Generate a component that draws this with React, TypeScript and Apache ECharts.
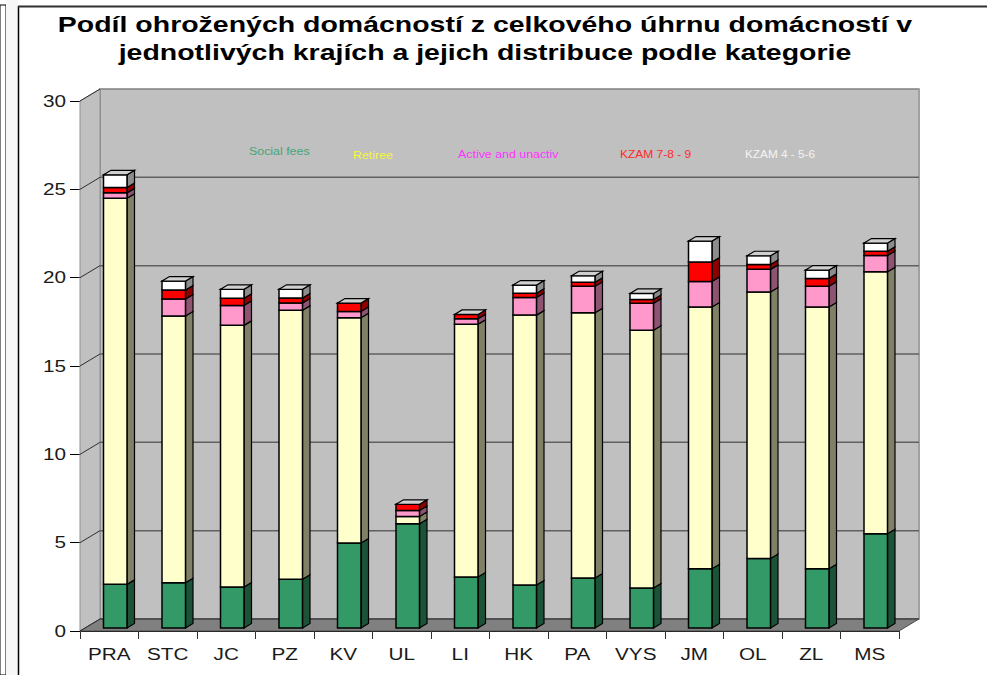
import React, { useEffect, useRef } from "react";
import * as echarts from "echarts";

const titleLines = [
  "Podíl ohrožených domácností z celkového úhrnu domácností v",
  "jednotlivých krajích a jejich distribuce podle kategorie",
];
const categories = ["PRA", "STC", "JC", "PZ", "KV", "UL", "LI", "HK", "PA", "VYS", "JM", "OL", "ZL", "MS"];
const socialFees = [2.47, 2.56, 2.32, 2.76, 4.81, 5.9, 2.89, 2.43, 2.83, 2.26, 3.36, 3.94, 3.36, 5.34];
const retiree = [21.85, 15.1, 14.81, 15.22, 12.75, 0.41, 14.3, 15.28, 15.01, 14.6, 14.81, 15.08, 14.81, 14.82];
const activeUnactiv = [0.31, 0.96, 1.13, 0.42, 0.36, 0.34, 0.31, 1.0, 1.5, 1.52, 1.45, 1.28, 1.17, 0.93];
const kzam789 = [0.31, 0.51, 0.41, 0.28, 0.47, 0.35, 0.25, 0.24, 0.23, 0.22, 1.09, 0.28, 0.45, 0.23];
const kzam456 = [0.71, 0.51, 0.5, 0.49, 0, 0, 0, 0.46, 0.37, 0.34, 1.19, 0.49, 0.47, 0.47];
const yTicks = [0, 5, 10, 15, 20, 25, 30];

const seriesDefs = [
  { name: "Social fees", values: socialFees, front: "#339966", side: "#1c5338" },
  { name: "Retiree", values: retiree, front: "#ffffcc", side: "#808066" },
  { name: "Active and unactiv", values: activeUnactiv, front: "#ff99cc", side: "#8c5470" },
  { name: "KZAM 7-8 - 9", values: kzam789, front: "#ff0000", side: "#8c0000" },
  { name: "KZAM 4 - 5-6", values: kzam456, front: "#ffffff", side: "#8c8c8c" },
];
const legendLabels = [
  { text: "Social fees", x: 249, y: 151, color: "#47a578", scaleX: 1.24 },
  { text: "Retiree", x: 353, y: 155, color: "#f6f63c", scaleX: 1.24 },
  { text: "Active and unactiv", x: 458, y: 154, color: "#ff33ff", scaleX: 1.24 },
  { text: "KZAM 7-8 - 9", x: 620, y: 154, color: "#ff2a2a", scaleX: 1.2 },
  { text: "KZAM 4 - 5-6", x: 745, y: 154, color: "#f4f4f4", scaleX: 1.18 },
];

const FONT = '"Liberation Sans", Arial, sans-serif';
const LABEL_FONT = `17px ${FONT}`;
const LABEL_STRETCH = 1.22;
const LABEL_COLOR = "#1a1a1a";
const WALL_DX = 20;
const WALL_DY = -12;
const BAR_DX = 7.5;
const BAR_DY = -4.5;
const BAR_WIDTH = 23.5;
const BAR_SHIFT_X = 6;
const BAR_SHIFT_Y = -3;
const EDGE = "#000000";

function poly(points: number[][], fill: string, stroke: string, lineWidth: number) {
  return { type: "polygon", shape: { points }, style: { fill, stroke, lineWidth, lineJoin: "miter" } };
}

export default function App() {
  const ref = useRef<HTMLDivElement>(null);
  useEffect(() => {
    const chart = echarts.init(ref.current!, undefined, { renderer: "svg" });

    const wallSeries = {
      type: "custom",
      name: "walls",
      silent: true,
      z: 1,
      data: yTicks.map((v) => [0, v]),
      encode: { x: 0, y: 1 },
      clip: false,
      renderItem: (params: any, api: any) => {
        const c = params.coordSys;
        const l = c.x;
        const r = c.x + c.width;
        const v = api.value(1);
        const y = api.coord([0, v])[1];
        const children: any[] = [];
        if (params.dataIndex === 0) {
          const t = c.y;
          const b = c.y + c.height;
          children.push(
            poly([[l + WALL_DX, t + WALL_DY], [r + WALL_DX, t + WALL_DY], [r + WALL_DX, b + WALL_DY], [l + WALL_DX, b + WALL_DY]], "#c0c0c0", "#808080", 1.5),
            { type: "line", shape: { x1: r + WALL_DX, y1: t + WALL_DY, x2: r + WALL_DX, y2: b + WALL_DY }, style: { stroke: "#a0a0a0", lineWidth: 2 } },
            poly([[l, t], [l + WALL_DX, t + WALL_DY], [l + WALL_DX, b + WALL_DY], [l, b]], "#c0c0c0", "#909090", 1),
            poly([[l, b], [l + WALL_DX, b + WALL_DY], [r + WALL_DX, b + WALL_DY], [r, b]], "#808080", "#505050", 1),
            { type: "line", shape: { x1: l + WALL_DX, y1: b + WALL_DY, x2: r + WALL_DX, y2: b + WALL_DY }, style: { stroke: "#505050", lineWidth: 2 } },
          );
        }
        if (v > 0 && v < 30) {
          children.push({
            type: "line",
            shape: { x1: l + WALL_DX, y1: y + WALL_DY, x2: r + WALL_DX, y2: y + WALL_DY },
            style: { stroke: "#606060", lineWidth: 1.5 },
          });
        }
        children.push({
          type: "line",
          shape: { x1: l, y1: y, x2: l + WALL_DX, y2: y + WALL_DY },
          style: { stroke: "#303030", lineWidth: 1 },
        });
        children.push({
          type: "text",
          x: l - 14,
          y,
          scaleX: LABEL_STRETCH,
          style: { text: String(v), font: LABEL_FONT, fill: LABEL_COLOR, align: "right", verticalAlign: "middle" },
        });
        return { type: "group", children };
      },
    };

    const categoryLabelSeries = {
      type: "custom",
      name: "regions",
      silent: true,
      z: 1,
      clip: false,
      encode: { x: 0, y: 1 },
      data: categories.map((_c, i) => [i, 0]),
      renderItem: (params: any, api: any) => {
        const p = api.coord([api.value(0), 0]);
        return {
          type: "text",
          x: p[0],
          y: p[1] + 23,
          scaleX: LABEL_STRETCH,
          style: { text: categories[params.dataIndex], font: LABEL_FONT, fill: LABEL_COLOR, align: "center", verticalAlign: "middle" },
        };
      },
    };

    const barSeries = seriesDefs.map((def, si) => ({
      type: "custom",
      name: def.name,
      silent: true,
      z: 2 + si,
      clip: false,
      encode: { x: 0, y: [1, 2] },
      data: def.values.map((v, i) => {
        let start = 0;
        for (let k = 0; k < si; k++) start += seriesDefs[k].values[i];
        return [i, start, start + v];
      }),
      renderItem: (_params: any, api: any) => {
        const idx = api.value(0);
        const base = api.coord([idx, api.value(1)]);
        const top = api.coord([idx, api.value(2)]);
        const x0 = base[0] + BAR_SHIFT_X - BAR_WIDTH / 2;
        const x1 = x0 + BAR_WIDTH;
        const yb = base[1] + BAR_SHIFT_Y;
        const yt = top[1] + BAR_SHIFT_Y;
        const children: any[] = [];
        if (yb - yt > 0.01) {
          children.push(
            poly([[x1, yb], [x1 + BAR_DX, yb + BAR_DY], [x1 + BAR_DX, yt + BAR_DY], [x1, yt]], def.side, EDGE, 1.2),
            poly([[x0, yb], [x1, yb], [x1, yt], [x0, yt]], def.front, EDGE, 1.5),
          );
        }
        if (si === seriesDefs.length - 1) {
          children.push(
            poly([[x0, yt], [x0 + BAR_DX, yt + BAR_DY], [x1 + BAR_DX, yt + BAR_DY], [x1, yt]], "#d0d0d0", EDGE, 1.2),
          );
        }
        return { type: "group", children };
      },
    }));

    chart.setOption({
      animation: false,
      backgroundColor: "#ffffff",
      grid: { left: 80, right: 88, top: 101, bottom: 44, containLabel: false },
      xAxis: {
        type: "category",
        data: categories,
        boundaryGap: true,
        axisLine: { lineStyle: { color: "#000000", width: 1 } },
        axisTick: { show: true, length: 8, lineStyle: { color: "#303030", width: 1 } },
        axisLabel: { show: false },
        splitLine: { show: false },
      },
      yAxis: {
        type: "value",
        min: 0,
        max: 30,
        interval: 5,
        axisLine: { show: true, lineStyle: { color: "#404040", width: 1 } },
        axisTick: { show: true, length: 10, lineStyle: { color: "#000000", width: 1 } },
        axisLabel: { show: false },
        splitLine: { show: false },
      },
      graphic: [
        { type: "rect", z: -10, silent: true, shape: { x: 0, y: 5, width: 6, height: 670 }, style: { fill: "#ffffff", stroke: "#000000", lineWidth: 1 } },
        { type: "rect", z: -10, silent: true, shape: { x: 6, y: 0, width: 12, height: 675 }, style: { fill: "#f7f7f7" } },
        { type: "line", z: -10, silent: true, shape: { x1: 18.5, y1: 6, x2: 18.5, y2: 675 }, style: { stroke: "#000000", lineWidth: 1.5 } },
        { type: "line", z: -10, silent: true, shape: { x1: 18, y1: 6.5, x2: 987, y2: 6.5 }, style: { stroke: "#303030", lineWidth: 2 } },
        ...titleLines.map((text, i) => ({
          type: "text",
          z: 20,
          silent: true,
          x: 485,
          y: 24 + i * 28,
          scaleX: 1.295,
          style: { text, fill: "#000000", font: `bold 22px ${FONT}`, align: "center", verticalAlign: "middle" },
        })),
        ...legendLabels.map((l) => ({
          type: "text",
          z: 20,
          silent: true,
          x: l.x,
          y: l.y,
          scaleX: l.scaleX,
          style: { text: l.text, fill: l.color, font: `10px ${FONT}`, verticalAlign: "middle", align: "left" },
        })),
      ],
      series: [wallSeries, categoryLabelSeries, ...barSeries],
    });
    return () => chart.dispose();
  }, []);
  return <div ref={ref} style={{ position: "absolute", left: 0, top: 0, width: 987, height: 675 }} />;
}
